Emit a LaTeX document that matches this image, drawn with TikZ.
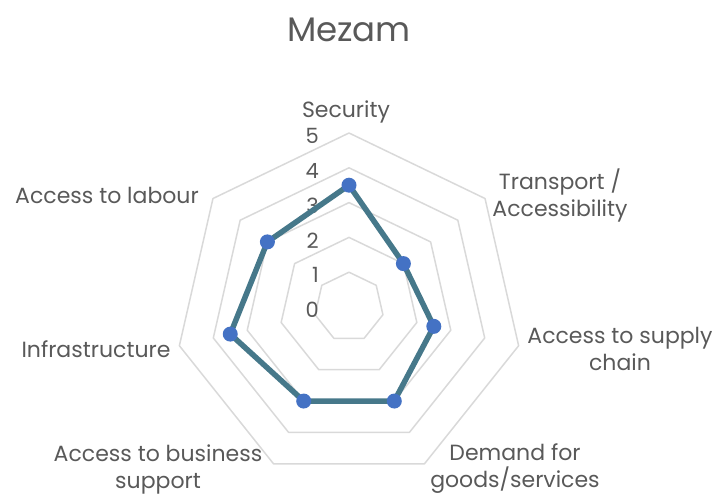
\documentclass[tikz,border=0pt]{standalone}
\usepackage{fontspec}
\setmainfont{Poppins}
\definecolor{txt}{HTML}{595959}
\definecolor{grid}{HTML}{D9D9D9}
\definecolor{series}{HTML}{46788A}
\definecolor{marker}{HTML}{4472C4}
\tikzset{
  gridline/.style={draw=grid, line width=1.5pt, line join=round},
  axislabel/.style={text=txt, font=\fontsize{22}{27}\selectfont, align=center, inner sep=0pt},
  levellabel/.style={text=txt, font=\fontsize{21}{22}\selectfont, anchor=east, inner sep=0pt},
  seriesline/.style={draw=series, line width=5.5pt, line join=round},
  markerdot/.style={circle, fill=marker, minimum size=15pt, inner sep=0pt},
}
\begin{document}
\begin{tikzpicture}[x=1pt, y=-1pt]
\useasboundingbox (0,0) rectangle (718,497);
\def\cx{349}\def\cy{307}\def\ru{34.8}
% grid heptagons
\foreach \k in {1,...,5}{
  \draw[gridline] ({\cx}, {\cy-\k*\ru})
    \foreach \i in {1,...,6}{ -- ({\cx+\k*\ru*sin(\i*360/7)}, {\cy-\k*\ru*cos(\i*360/7)}) } -- cycle;
}
% level labels
\foreach \k in {0,...,5}{
  \node[levellabel] (lv\k) at (319, {\cy-\k*\ru+3}) {\k};
}
% title
\node[text=txt, font=\fontsize{34}{36}\selectfont, inner sep=0pt] (title) at (349,30) {Mezam};
% axis labels
\node[axislabel] (a0) at (346,112) {Security};
\node[axislabel] (a1) at (560,195) {Transport /\\Accessibility};
\node[axislabel] (a2) at (620,349) {Access to supply\\chain};
\node[axislabel] (a3) at (515,469) {Demand for\\goods/services};
\node[axislabel] (a4) at (158,469) {Access to business\\support};
\node[axislabel] (a5) at (96,349) {Infrastructure};
\node[axislabel] (a6) at (107,195) {Access to labour};
% data
\foreach \v [count=\n from 0] in {3.5,2,2.5,3,3,3.5,3}{
  \coordinate (c\n) at ({\cx+\v*\ru*sin(\n*360/7)}, {\cy-\v*\ru*cos(\n*360/7)});
}
\draw[seriesline] (c0) -- (c1) -- (c2) -- (c3) -- (c4) -- (c5) -- (c6) -- cycle;
\foreach \n in {0,...,6}{
  \node[markerdot] (p\n) at (c\n) {};
}
\end{tikzpicture}
\end{document}
